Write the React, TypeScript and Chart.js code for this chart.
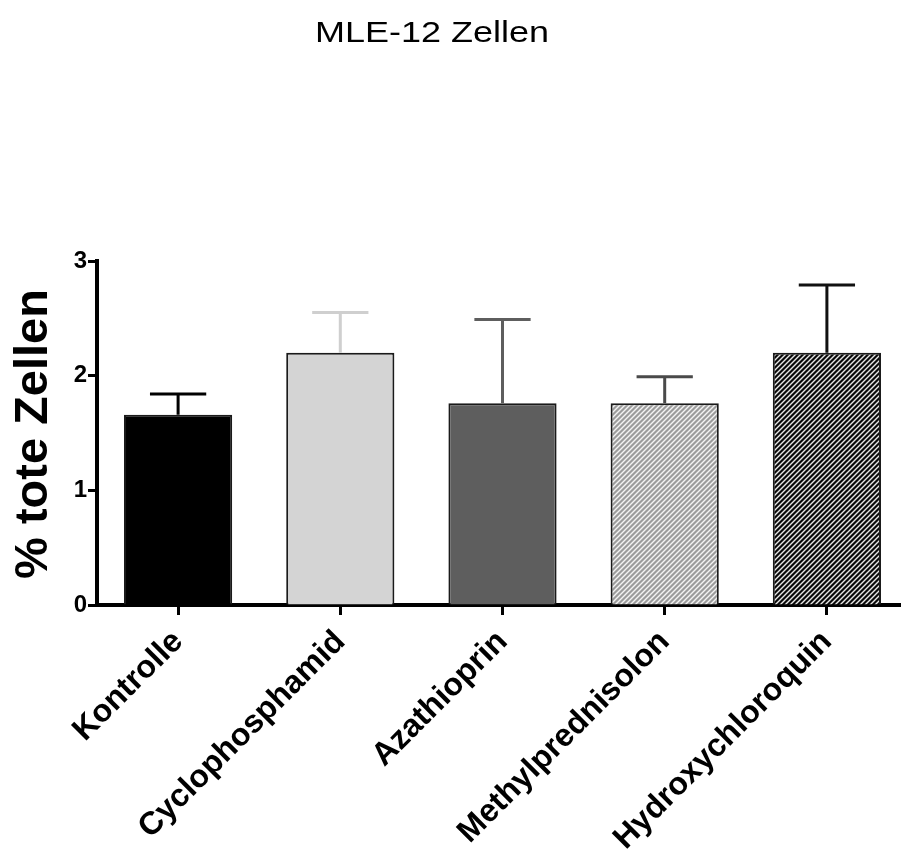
import React, { useEffect, useRef } from "react";
import { Chart, registerables } from "chart.js";

Chart.register(...registerables);

const categories = ["Kontrolle", "Cyclophosphamid", "Azathioprin", "Methylprednisolon", "Hydroxychloroquin"];
const meanValues = [1.66, 2.2, 1.76, 1.76, 2.2];
const errorValues = [0.18, 0.35, 0.73, 0.23, 0.59];
const yTicks = [0, 1, 2, 3];
const chartTitle = "MLE-12 Zellen";
const yAxisTitle = "% tote Zellen";

const FONT = '"Liberation Sans", Arial, Helvetica, sans-serif';

function makeHatch(base: string, stripe: string): CanvasPattern | string {
  const size = 5;
  const c = document.createElement("canvas");
  c.width = size;
  c.height = size;
  const ctx = c.getContext("2d");
  if (!ctx) return base;
  ctx.fillStyle = base;
  ctx.fillRect(0, 0, size, size);
  ctx.strokeStyle = stripe;
  ctx.lineWidth = 1.4;
  ctx.beginPath();
  ctx.moveTo(-1, size + 1);
  ctx.lineTo(size + 1, -1);
  ctx.moveTo(-1, 1);
  ctx.lineTo(1, -1);
  ctx.moveTo(size - 1, size + 1);
  ctx.lineTo(size + 1, size - 1);
  ctx.stroke();
  const p = ctx.createPattern(c, "repeat");
  return p || base;
}

export default function App() {
  const ref = useRef<HTMLCanvasElement | null>(null);

  useEffect(() => {
    const canvas = ref.current;
    if (!canvas) return;

    const fills = [
      "#000000",
      "#d4d4d4",
      "#5e5e5e",
      makeHatch("#9c9c9c", "#f4f4f4"),
      makeHatch("#0a0a0a", "#e8e8e8"),
    ];
    const errColors = ["#000000", "#cfcfcf", "#5e5e5e", "#4a4a4a", "#111111"];

    const widenPlugin = {
      id: "widenX",
      afterLayout(chart: any) {
        const xs = chart.scales.x;
        if (!xs) return;
        xs.right = 908;
        xs.width = xs.right - xs.left;
        xs.configure();
      },
    };

    const errorBarPlugin = {
      id: "errorBars",
      afterDatasetsDraw(chart: any) {
        const ctx = chart.ctx;
        const meta = chart.getDatasetMeta(0);
        const yScale = chart.scales.y;
        ctx.save();
        ctx.lineWidth = 3;
        meta.data.forEach((bar: any, i: number) => {
          const x = bar.x;
          const yBase = bar.y;
          const yTop = yScale.getPixelForValue(meanValues[i] + errorValues[i]);
          const half = bar.width * 0.26;
          ctx.strokeStyle = errColors[i];
          ctx.beginPath();
          ctx.moveTo(x, yBase);
          ctx.lineTo(x, yTop);
          ctx.moveTo(x - half, yTop);
          ctx.lineTo(x + half, yTop);
          ctx.stroke();
        });
        ctx.restore();
      },
    };

    const textPlugin = {
      id: "texts",
      afterDraw(chart: any) {
        const ctx = chart.ctx;
        ctx.save();
        ctx.fillStyle = "#000";
        ctx.textAlign = "center";
        ctx.textBaseline = "alphabetic";
        ctx.font = `30px ${FONT}`;
        ctx.translate(432, 42);
        ctx.scale(1.2, 1);
        ctx.fillText(chartTitle, 0, 0);
        ctx.restore();

        ctx.save();
        ctx.fillStyle = "#000";
        ctx.textAlign = "center";
        ctx.textBaseline = "middle";
        ctx.font = `bold 47px ${FONT}`;
        ctx.translate(34, 434);
        ctx.rotate(-Math.PI / 2);
        ctx.fillText(yAxisTitle, 0, 0);
        ctx.restore();
      },
    };

    const chart = new Chart(canvas, {
      type: "bar",
      data: {
        labels: categories,
        datasets: [
          {
            data: meanValues,
            backgroundColor: fills as any,
            borderColor: "#1a1a1a",
            borderWidth: 2,
            borderSkipped: "start",
            barPercentage: 0.667,
            categoryPercentage: 1,
          },
        ],
      },
      options: {
        responsive: false,
        animation: false,
        devicePixelRatio: 1,
        layout: { padding: { top: 261, right: 0, left: 0, bottom: 0 } },
        plugins: {
          legend: { display: false },
          title: { display: false },
          tooltip: { enabled: false },
        },
        scales: {
          x: {
            grid: {
              display: true,
              drawOnChartArea: false,
              offset: false,
              tickLength: 10,
              tickWidth: 3,
              tickColor: "#000",
            },
            border: { display: true, color: "#000", width: 4 },
            ticks: {
              autoSkip: false,
              maxRotation: 45,
              minRotation: 45,
              color: "#000",
              padding: 8,
              font: { family: FONT, size: 32, weight: "bold" },
            },
            afterFit(scale: any) {
              scale.height = 249;
            },
          },
          y: {
            min: 0,
            max: 3,
            afterBuildTicks(scale: any) {
              scale.ticks = yTicks.map((v) => ({ value: v }));
            },
            grid: {
              display: true,
              drawOnChartArea: false,
              tickLength: 9,
              tickWidth: 3,
              tickColor: "#000",
            },
            border: { display: true, color: "#000", width: 4 },
            ticks: {
              color: "#000",
              padding: 1,
              font: { family: FONT, size: 24, weight: "bold" },
            },
            afterFit(scale: any) {
              scale.width = 97;
            },
          },
        },
      },
      plugins: [widenPlugin, errorBarPlugin, textPlugin],
    });

    return () => {
      chart.destroy();
    };
  }, []);

  return (
    <div style={{ position: "fixed", left: 0, top: 0, width: 901, height: 854, background: "#fff" }}>
      <canvas ref={ref} width={901} height={854} style={{ display: "block", width: 901, height: 854 }} />
    </div>
  );
}
